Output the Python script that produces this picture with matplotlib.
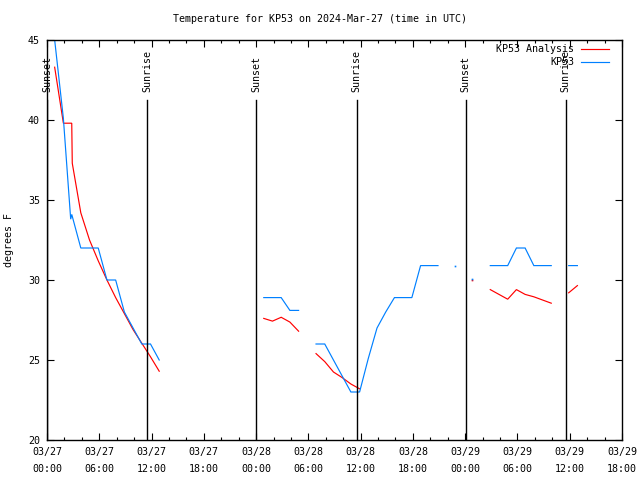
import numpy as np
import matplotlib
matplotlib.use("Agg")
import matplotlib.pyplot as plt

nan = np.nan

# hours since 2024-03-27 00:00 UTC
obs_hours = [0.88, 1.88, 2.72, 2.84, 3.88, 4.88, 5.88, 6.88, 7.88, 8.88, 9.88, 10.88, 11.88, 12.88, 13.88,
             24.88, 25.88, 26.88, 27.88, 28.88, 29.88,
             30.88, 31.88, 32.88, 33.88, 34.88, 35.88, 36.88, 37.88, 38.88, 39.88, 40.88, 41.88,
             42.88, 43.88, 44.88, 45.88, 46.88, 47.88, 48.83, 49.88,
             50.88, 51.88, 52.88, 53.88, 54.88, 55.88, 56.88, 57.88, 58.88, 59.88, 60.88]
obs_temps = [45.0, 40.1, 33.8, 34.1, 32.0, 32.0, 32.0, 30.0, 30.0, 28.0, 27.0, 26.0, 26.0, 25.0, nan,
             28.9, 28.9, 28.9, 28.1, 28.1, nan,
             26.0, 26.0, 25.0, 24.0, 23.0, 23.0, 25.1, 27.0, 28.0, 28.9, 28.9, 28.9,
             30.9, 30.9, 30.9, nan, 30.9, nan, 30.05, nan,
             30.9, 30.9, 30.9, 32.0, 32.0, 30.9, 30.9, 30.9, nan, 30.9, 30.9]

ana_hours = [0.88, 1.88, 2.84, 2.90, 3.88, 4.88, 5.88, 6.88, 7.88, 8.88, 9.88, 10.88, 11.88, 12.88, 13.88,
             24.88, 25.88, 26.88, 27.88, 28.88, 29.88,
             30.88, 31.88, 32.88, 33.88, 34.88, 35.88, 36.88,
             47.88, 48.83, 49.88,
             50.88, 51.88, 52.88, 53.88, 54.88, 55.88, 56.88, 57.88, 58.88, 59.88, 60.88]
ana_temps = [43.3, 39.8, 39.8, 37.3, 34.2, 32.5, 31.2, 30.0, 28.9, 27.9, 26.9, 26.05, 25.2, 24.3, nan,
             27.6, 27.43, 27.67, 27.37, 26.8, nan,
             25.4, 24.9, 24.25, 23.9, 23.5, 23.2, nan,
             nan, 29.98, nan,
             29.4, 29.1, 28.8, 29.4, 29.1, 28.95, 28.75, 28.55, nan, 29.2, 29.65]

sunset_hours = [0.02, 24.04, 48.05]
sunrise_hours = [11.53, 35.53, 59.53]

tick_hours = list(range(0, 67, 6))
tick_labels = ["03/27\n00:00", "03/27\n06:00", "03/27\n12:00", "03/27\n18:00",
               "03/28\n00:00", "03/28\n06:00", "03/28\n12:00", "03/28\n18:00",
               "03/29\n00:00", "03/29\n06:00", "03/29\n12:00", "03/29\n18:00"]
y_ticks = [20, 25, 30, 35, 40, 45]

RED = "#ff0000"
BLUE = "#0080ff"
FONT = "DejaVu Sans Mono"
FS = 7.2

fig = plt.figure(figsize=(6.4, 4.8), dpi=100)
ax = fig.add_axes([47/640, 1-440/480, 575/640, 400/480])
ax.set_xlim(0, 66)
ax.set_ylim(20, 45)

def draw(hours, temps, color):
    h = np.array(hours, dtype=float)
    t = np.array(temps, dtype=float)
    ax.plot(h, t, color=color, lw=0.85, solid_joinstyle="miter")
    # isolated points
    for i in range(len(t)):
        if np.isnan(t[i]):
            continue
        prev_nan = i == 0 or np.isnan(t[i-1])
        next_nan = i == len(t)-1 or np.isnan(t[i+1])
        if prev_nan and next_nan:
            ax.plot([h[i]], [t[i]], marker="s", ms=1.2, mec="none", color=color, ls="none")

draw(ana_hours, ana_temps, RED)
draw(obs_hours, obs_temps, BLUE)

top_line = 20 + (440-100)/16
text_y = 20 + (440-92)/16
for hh in sunset_hours:
    ax.plot([hh, hh], [20, top_line], color="black", lw=1.0)
    ax.text(hh, text_y, "Sunset", rotation=90, ha="center", va="bottom", family=FONT, fontsize=FS)
for hh in sunrise_hours:
    ax.plot([hh, hh], [20, top_line], color="black", lw=1.0)
    ax.text(hh, text_y, "Sunrise", rotation=90, ha="center", va="bottom", family=FONT, fontsize=FS)

ax.set_xticks(tick_hours)
ax.set_xticklabels(tick_labels, family=FONT, fontsize=FS, linespacing=1.9)
ax.set_xticks(range(0, 67, 2), minor=True)
ax.set_yticks(y_ticks)
ax.set_yticklabels([str(v) for v in y_ticks], family=FONT, fontsize=FS)
ax.tick_params(axis="both", which="major", direction="in", length=5, width=0.8,
               top=True, right=True, pad=5)
ax.tick_params(axis="x", which="minor", direction="in", length=2.5, width=0.8, top=True)
for s in ax.spines.values():
    s.set_linewidth(1.0)

ax.set_ylabel("degrees F", family=FONT, fontsize=FS, labelpad=10)
fig.text(0.5, 1-19/480, "Temperature for KP53 on 2024-Mar-27 (time in UTC)",
         ha="center", va="center", family=FONT, fontsize=FS)

# legend
leg_entries = [("KP53 Analysis", RED, 0.9768), ("KP53", BLUE, 0.9443)]
for label, col, yy in leg_entries:
    ax.text(0.9165, yy, label, transform=ax.transAxes, ha="right", va="center",
            family=FONT, fontsize=FS)
    ax.plot([0.9287, 0.9774], [yy, yy], transform=ax.transAxes, color=col, lw=0.85, clip_on=False)

fig.savefig("out.png", dpi=100)
